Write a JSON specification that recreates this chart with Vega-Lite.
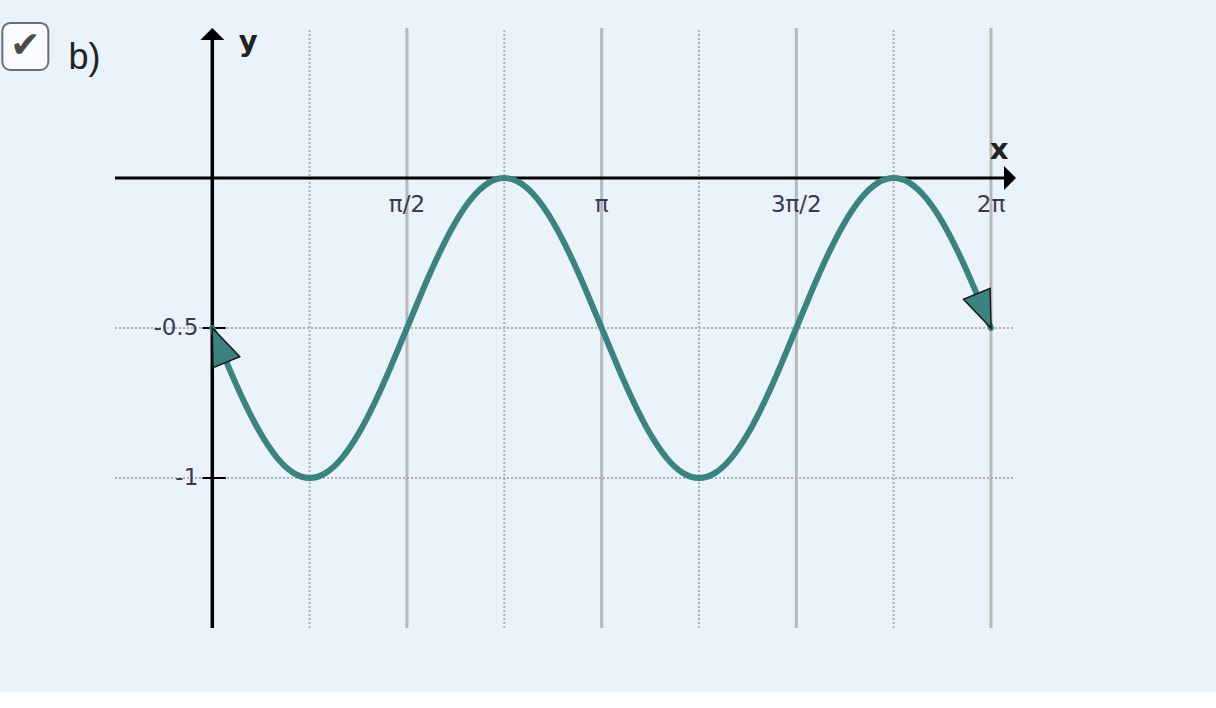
{
  "$schema": "https://vega.github.io/schema/vega-lite/v6.json",
  "autosize": "none",
  "width": 901,
  "height": 600,
  "padding": {"left": 115, "top": 28, "right": 200, "bottom": 64},
  "background": "#EAF2FB",
  "config": {"view": {"stroke": null}},
  "datasets": {
    "curve": [
      {"x": 0, "y": -0.5}, {"x": 0.1309, "y": -0.6294}, {"x": 0.2618, "y": -0.75}, {"x": 0.3927, "y": -0.8536},
      {"x": 0.5236, "y": -0.933}, {"x": 0.6545, "y": -0.983}, {"x": 0.7854, "y": -1}, {"x": 0.9163, "y": -0.983},
      {"x": 1.0472, "y": -0.933}, {"x": 1.1781, "y": -0.8536}, {"x": 1.309, "y": -0.75}, {"x": 1.4399, "y": -0.6294},
      {"x": 1.5708, "y": -0.5}, {"x": 1.7017, "y": -0.3706}, {"x": 1.8326, "y": -0.25}, {"x": 1.9635, "y": -0.1464},
      {"x": 2.0944, "y": -0.067}, {"x": 2.2253, "y": -0.017}, {"x": 2.3562, "y": 0}, {"x": 2.4871, "y": -0.017},
      {"x": 2.618, "y": -0.067}, {"x": 2.7489, "y": -0.1464}, {"x": 2.8798, "y": -0.25}, {"x": 3.0107, "y": -0.3706},
      {"x": 3.1416, "y": -0.5}, {"x": 3.2725, "y": -0.6294}, {"x": 3.4034, "y": -0.75}, {"x": 3.5343, "y": -0.8536},
      {"x": 3.6652, "y": -0.933}, {"x": 3.7961, "y": -0.983}, {"x": 3.927, "y": -1}, {"x": 4.0579, "y": -0.983},
      {"x": 4.1888, "y": -0.933}, {"x": 4.3197, "y": -0.8536}, {"x": 4.4506, "y": -0.75}, {"x": 4.5815, "y": -0.6294},
      {"x": 4.7124, "y": -0.5}, {"x": 4.8433, "y": -0.3706}, {"x": 4.9742, "y": -0.25}, {"x": 5.1051, "y": -0.1464},
      {"x": 5.236, "y": -0.067}, {"x": 5.3669, "y": -0.017}, {"x": 5.4978, "y": 0}, {"x": 5.6287, "y": -0.017},
      {"x": 5.7596, "y": -0.067}, {"x": 5.8905, "y": -0.1464}, {"x": 6.0214, "y": -0.25}, {"x": 6.1523, "y": -0.3706},
      {"x": 6.2832, "y": -0.5}
    ],
    "vgridSolid": [
      {"x": 1.5708, "y": -1.5, "y2": 0.5}, {"x": 3.1416, "y": -1.5, "y2": 0.5},
      {"x": 4.7124, "y": -1.5, "y2": 0.5}, {"x": 6.2832, "y": -1.5, "y2": 0.5}
    ],
    "vgridDotted": [
      {"x": 0.7854, "y": -1.5, "y2": 0.5}, {"x": 2.3562, "y": -1.5, "y2": 0.5},
      {"x": 3.927, "y": -1.5, "y2": 0.5}, {"x": 5.4978, "y": -1.5, "y2": 0.5}
    ],
    "hgrid": [
      {"x": -0.785, "x2": 6.47, "y": -0.5}, {"x": -0.785, "x2": 6.47, "y": -1}
    ],
    "xAxisLine": [{"x": -0.785, "x2": 6.44, "y": 0}],
    "yAxisLine": [{"x": 0, "y": -1.5, "y2": 0.47}],
    "yTicks": [
      {"x": -0.08, "x2": 0.11, "y": -0.5, "lx": -0.113, "label": "-0.5"},
      {"x": -0.08, "x2": 0.11, "y": -1, "lx": -0.113, "label": "-1"}
    ],
    "xLabels": [
      {"x": 1.5708, "y": -0.09, "label": "π/2"},
      {"x": 3.1416, "y": -0.09, "label": "π"},
      {"x": 4.7124, "y": -0.09, "label": "3π/2"},
      {"x": 6.2832, "y": -0.09, "label": "2π"}
    ],
    "axisNames": [
      {"x": 6.348, "y": 0.063, "label": "x"},
      {"x": 0.29, "y": 0.423, "label": "y"}
    ],
    "xArrow": [{"x": 6.485, "y": 0}],
    "yArrow": [{"x": 0, "y": 0.5}],
    "startArrow": [{"x": 0, "y": -0.5}],
    "endArrow": [{"x": 6.2832, "y": -0.5}],
    "checkbox": [{"x": -1.694, "x2": -1.323, "y": 0.517, "y2": 0.36}],
    "checkmark": [{"x": -1.508, "y": 0.44, "label": "✔"}],
    "caption": [{"x": -1.161, "y": 0.363, "label": "b)"}]
  },
  "encoding": {
    "x": {"field": "x", "type": "quantitative", "scale": {"domain": [-0.785, 6.485], "nice": false, "zero": false}, "axis": null},
    "y": {"field": "y", "type": "quantitative", "scale": {"domain": [-1.5, 0.5], "nice": false, "zero": false}, "axis": null}
  },
  "layer": [
    {
      "data": {"name": "checkbox"},
      "mark": {"type": "rect", "cornerRadius": 8, "fill": "#FAFCFF", "stroke": "#6E6E6E", "strokeWidth": 2},
      "encoding": {"x2": {"field": "x2"}, "y2": {"field": "y2"}}
    },
    {
      "data": {"name": "checkmark"},
      "mark": {"type": "text", "font": "DejaVu Sans", "fontSize": 36, "color": "#4A4A4A", "align": "center", "baseline": "middle"},
      "encoding": {"text": {"field": "label"}}
    },
    {
      "data": {"name": "caption"},
      "mark": {"type": "text", "font": "Liberation Sans", "fontSize": 36, "color": "#222222", "align": "left", "baseline": "alphabetic"},
      "encoding": {"text": {"field": "label"}}
    },
    {
      "data": {"name": "vgridSolid"},
      "mark": {"type": "rule", "color": "#B8B8B8", "strokeWidth": 3},
      "encoding": {"y2": {"field": "y2"}}
    },
    {
      "data": {"name": "vgridDotted"},
      "mark": {"type": "rule", "color": "#B0B0B0", "strokeWidth": 2, "strokeDash": [2, 2]},
      "encoding": {"y2": {"field": "y2"}}
    },
    {
      "data": {"name": "hgrid"},
      "mark": {"type": "rule", "color": "#B0B0B0", "strokeWidth": 2, "strokeDash": [2, 2]},
      "encoding": {"x2": {"field": "x2"}}
    },
    {
      "data": {"name": "xAxisLine"},
      "mark": {"type": "rule", "color": "#000000", "strokeWidth": 3},
      "encoding": {"x2": {"field": "x2"}}
    },
    {
      "data": {"name": "yAxisLine"},
      "mark": {"type": "rule", "color": "#000000", "strokeWidth": 3.5},
      "encoding": {"y2": {"field": "y2"}}
    },
    {
      "data": {"name": "yTicks"},
      "mark": {"type": "rule", "color": "#000000", "strokeWidth": 2},
      "encoding": {"x2": {"field": "x2"}}
    },
    {
      "data": {"name": "yTicks"},
      "mark": {"type": "text", "font": "DejaVu Sans", "fontSize": 23, "color": "#3A3A50", "align": "right", "baseline": "middle"},
      "encoding": {"x": {"field": "lx", "type": "quantitative"}, "text": {"field": "label"}}
    },
    {
      "data": {"name": "xLabels"},
      "mark": {"type": "text", "font": "DejaVu Sans", "fontSize": 23, "color": "#3A3A50", "align": "center", "baseline": "middle"},
      "encoding": {"text": {"field": "label"}}
    },
    {
      "data": {"name": "axisNames"},
      "mark": {"type": "text", "font": "DejaVu Sans", "fontSize": 29, "fontWeight": "bold", "color": "#222222", "align": "center", "baseline": "alphabetic"},
      "encoding": {"text": {"field": "label"}}
    },
    {
      "data": {"name": "curve"},
      "mark": {"type": "line", "color": "#3B8280", "strokeWidth": 6, "interpolate": "natural", "strokeCap": "round"}
    },
    {
      "data": {"name": "startArrow"},
      "mark": {"type": "point", "shape": "M0,0L-0.39,1L0.39,1Z", "size": 5476, "angle": -22.5, "filled": true, "fill": "#3B8280", "stroke": "#1A1A1A", "strokeWidth": 1.5, "opacity": 1}
    },
    {
      "data": {"name": "endArrow"},
      "mark": {"type": "point", "shape": "M0,0L-0.39,1L0.39,1Z", "size": 5476, "angle": 157.5, "filled": true, "fill": "#3B8280", "stroke": "#1A1A1A", "strokeWidth": 1.5, "opacity": 1}
    },
    {
      "data": {"name": "xArrow"},
      "mark": {"type": "point", "shape": "M0,0L-1,1L1,1Z", "size": 576, "angle": 90, "filled": true, "color": "#000000", "opacity": 1}
    },
    {
      "data": {"name": "yArrow"},
      "mark": {"type": "point", "shape": "M0,0L-1,1L1,1Z", "size": 576, "angle": 0, "filled": true, "color": "#000000", "opacity": 1}
    }
  ]
}
